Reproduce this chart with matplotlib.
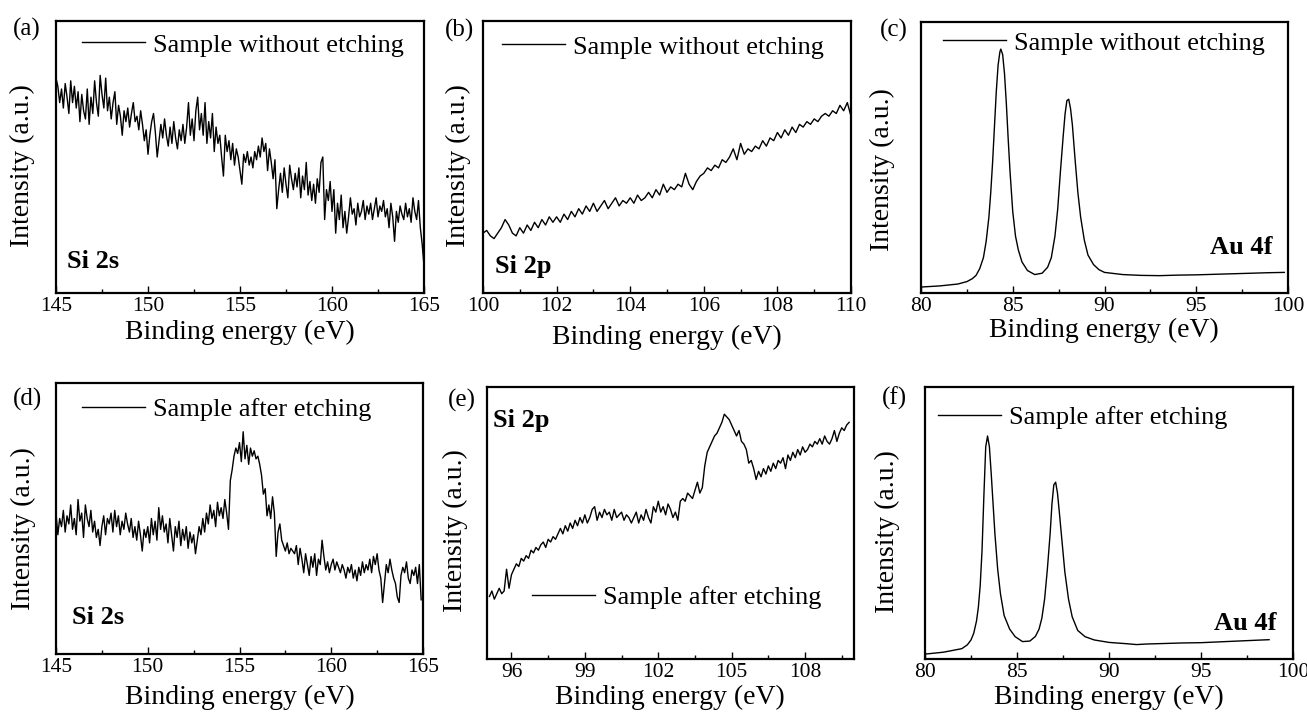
import numpy as np
import matplotlib
matplotlib.use("Agg")
import matplotlib.pyplot as plt
from matplotlib.ticker import MultipleLocator

plt.rcParams['font.family'] = ['Liberation Serif', 'DejaVu Serif']

W, H = 1307, 712

# ---- data (intensity in arbitrary units, 0-100) ----
# (a) Si 2s, without etching, 145-165 eV step 0.1
si2s_raw_x = np.round(np.arange(145.0, 165.05, 0.1), 1)
si2s_raw_y = [
    79, 76, 70, 75, 68, 77, 72, 66, 78, 70,
    76, 68, 74, 63, 73, 67, 64, 75, 62, 72,
    66, 78, 70, 65, 80, 73, 68, 79, 67, 72,
    64, 70, 74, 62, 69, 65, 58, 67, 63, 68,
    61, 66, 70, 63, 65, 60, 67, 62, 56, 60,
    51, 58, 63, 66, 59, 50, 56, 62, 57, 64,
    58, 54, 61, 55, 63, 57, 53, 60, 56, 62,
    55, 61, 70, 58, 64, 56, 67, 72, 60, 66,
    58, 70, 55, 63, 57, 66, 52, 61, 55, 58,
    50, 43, 58, 52, 56, 49, 55, 47, 53, 50,
    45, 40, 51, 48, 52, 47, 50, 46, 52, 49,
    54, 50, 57, 52, 55, 45, 53, 48, 42, 49,
    31, 38, 44, 37, 46, 40, 35, 47, 42, 38,
    44, 39, 46, 35, 43, 38, 48, 36, 41, 34,
    40, 33, 42, 37, 48, 50, 27, 38, 34, 41,
    30, 38, 22, 33, 27, 36, 24, 30, 22, 28,
    35, 29, 31, 25, 33, 28, 30, 34, 27, 32,
    29, 33, 27, 31, 35, 28, 32, 30, 34, 28,
    31, 24, 33, 28, 19, 30, 26, 32, 29, 27,
    33, 28, 31, 26, 35, 30, 27, 34, 24, 18,
    10,
]

# (b) Si 2p, without etching, 100-110 eV step 0.1
si2p_raw_x = np.round(np.arange(100.0, 110.05, 0.1), 1)
si2p_raw_y = [
    22, 23, 21, 20, 22, 24, 27, 25, 22, 21,
    24, 22, 25, 23, 26, 24, 27, 25, 28, 26,
    28, 26, 29, 27, 30, 28, 31, 29, 32, 30,
    33, 30, 32, 34, 31, 33, 35, 32, 34, 33,
    35, 33, 36, 34, 35, 37, 35, 38, 36, 40,
    37, 39, 38, 40, 39, 44, 40, 38, 41, 43,
    44, 46, 45, 47, 46, 49, 48, 50, 53, 49,
    55, 51, 53, 52, 54, 53, 56, 54, 57, 56,
    59, 57, 60, 58, 61, 59, 62, 61, 63, 62,
    64, 63, 65, 66, 65, 67, 66, 69, 67, 70,
    65,
]

# (c) Au 4f, without etching
au4f_raw_x = [80.0, 81.0, 82.0, 82.5, 82.8, 83.0, 83.2, 83.4, 83.55, 83.7,
              83.8, 83.9, 84.0, 84.1, 84.2, 84.3, 84.35, 84.45, 84.55, 84.65,
              84.75, 84.85, 85.0, 85.15, 85.3, 85.5, 85.8, 86.2, 86.6, 86.9,
              87.1, 87.3, 87.45, 87.6, 87.75, 87.85, 87.95, 88.05, 88.15, 88.25,
              88.4, 88.55, 88.7, 88.9, 89.1, 89.4, 89.7, 90.0, 91.0, 92.0,
              93.0, 94.0, 95.0, 96.0, 97.0, 98.0, 99.0, 99.8]
au4f_raw_y = [2.2, 2.6, 3.3, 4.2, 5.3, 6.5, 9, 13, 19, 28,
              37, 48, 61, 74, 84, 89, 90, 88, 81, 70,
              57, 45, 30, 21, 16, 11.5, 8.3, 6.8, 7.3, 9.5,
              13, 21, 31, 45, 58, 66, 71, 71.5, 68, 62,
              49, 37, 28, 19.5, 14, 10.5, 8.6, 7.6, 6.8, 6.5,
              6.4, 6.6, 6.7, 6.9, 7.1, 7.3, 7.5, 7.6]

# (d) Si 2s, after etching, 145-164.9 eV step 0.1
si2s_etch_x = np.round(np.arange(145.0, 164.95, 0.1), 1)
si2s_etch_y = [
    52, 44, 50, 47, 53, 45, 51, 48, 55, 46,
    50, 44, 57, 49, 52, 43, 55, 50, 47, 53,
    45, 49, 43, 46, 40, 47, 51, 44, 50, 48,
    52, 45, 53, 47, 51, 44, 49, 46, 52, 48,
    45, 50, 43, 47, 42, 49, 44, 38, 46, 43,
    47, 41, 50, 44, 49, 42, 54, 46, 51, 45,
    48, 41, 50, 44, 38, 47, 43, 49, 40, 46,
    42, 47, 39, 45, 41, 44, 37, 42, 47, 44,
    50, 45, 52, 48, 55, 50, 53, 47, 56, 51,
    54, 50, 57, 52, 46, 64, 68, 73, 76, 74,
    78, 71, 82, 72, 77, 70, 76, 73, 75, 72,
    73, 70, 66, 59, 61, 51, 55, 50, 58, 52,
    36, 45, 48, 42, 40, 38, 41, 37, 39, 38,
    37, 40, 33, 39, 35, 30, 37, 33, 29, 36,
    32, 37, 29, 35, 33, 42, 36, 31, 34, 30,
    33, 35, 31, 34, 32, 30, 33, 31, 28, 32,
    30, 33, 28, 31, 27, 32, 29, 34, 30, 33,
    31, 35, 30, 36, 33, 37, 31, 28, 19, 26,
    33, 30, 35, 31, 28, 26, 21, 19, 29, 32,
    30, 34, 28, 26, 31, 29, 32, 26, 33, 20,
]

# (e) Si 2p, after etching, 95.1-109.8 eV step 0.1
si2p_etch_x = np.round(np.arange(95.1, 109.85, 0.1), 1)
si2p_etch_y = [
    23, 25, 22, 24, 26, 24, 25, 33, 26,
    31, 33, 35, 34, 37, 36, 38, 37, 40, 39,
    41, 40, 42, 43, 41, 44, 43, 45, 44, 46,
    48, 46, 49, 47, 50, 48, 51, 49, 52, 50,
    53, 50, 52, 55, 56, 51, 54, 52, 55, 53,
    54, 51, 55, 52, 53, 54, 51, 53, 52, 50,
    52, 54, 50, 53, 51, 55, 52, 50, 56, 54,
    58, 54, 56, 53, 57, 55, 52, 54, 51, 58,
    59, 58, 61, 60, 59, 62, 65, 61, 63, 71,
    76, 78, 80, 82, 83, 85, 87, 90, 89, 88,
    86, 84, 82, 84, 80, 79, 77, 72, 73, 70,
    66, 69, 67, 70, 68, 71, 69, 72, 70, 73,
    72, 74, 70, 75, 73, 76, 74, 77, 75, 78,
    76, 77, 79, 78, 80, 79, 81, 79, 82, 80,
    79, 81, 84, 80, 83, 85, 84, 86, 87,
]

# (f) Au 4f, after etching
au4f_etch_x = [80.0, 81.0, 82.0, 82.3, 82.5, 82.65, 82.8, 82.9, 83.0, 83.1,
               83.2, 83.3, 83.4, 83.5, 83.6, 83.7, 83.8, 83.95, 84.1, 84.3,
               84.6, 84.9, 85.3, 85.7, 86.0, 86.2, 86.35, 86.5, 86.65, 86.8,
               86.9, 87.0, 87.1, 87.2, 87.3, 87.45, 87.6, 87.8, 88.0, 88.3,
               88.7, 89.2, 90.0, 91.0, 91.5, 92.0, 93.0, 94.0, 95.0, 96.0,
               97.0, 98.0, 98.7]
au4f_etch_y = [1.8, 2.5, 3.8, 5.2, 7, 9.5, 14, 19, 27, 40,
               60, 78, 82, 78, 68, 57, 46, 33, 24, 16,
               11, 8.2, 6.4, 6.6, 8.3, 11, 15, 22, 33, 46,
               57, 64, 65, 61, 54, 43, 32, 22, 15.5, 10.5,
               8.2, 7, 6.1, 5.6, 5.3, 5.5, 5.7, 5.9, 6.0, 6.3,
               6.6, 6.9, 7.1]

panels = [
    # letter, x, y, xlim, major, minor, legend text, rect(l, t, r, b), region
    ('(a)', si2s_raw_x, si2s_raw_y, (145, 165), 5, 2.5, 'Sample without etching', (56, 21, 424, 293), 'Si 2s'),
    ('(b)', si2p_raw_x, si2p_raw_y, (100, 110), 2, 1, 'Sample without etching', (483, 21, 851, 293), 'Si 2p'),
    ('(c)', au4f_raw_x, au4f_raw_y, (80, 100), 5, 2.5, 'Sample without etching', (921, 22, 1288, 293), 'Au 4f'),
    ('(d)', si2s_etch_x, si2s_etch_y, (145, 165), 5, 2.5, 'Sample after etching', (56, 383, 423, 654), 'Si 2s'),
    ('(e)', si2p_etch_x, si2p_etch_y, (95, 110), 3, 1.5, 'Sample after etching', (487, 387, 854, 659), 'Si 2p'),
    ('(f)', au4f_etch_x, au4f_etch_y, (80, 100), 5, 2.5, 'Sample after etching', (925, 387, 1293, 659), 'Au 4f'),
]

# pixel positions of decorations
letter_pos = [(13, 29), (445, 30), (880, 30), (13, 399), (448, 400), (882, 398)]
legend_pos = [(82, 45), (502, 47), (943, 43), (82, 409), (532, 597), (938, 417)]
region_pos = [(67, 261, 'left'), (495, 267, 'left'), (1272, 247, 'right'),
              (72, 618, 'left'), (493, 420, 'left'), (1277, 623, 'right')]
xlabel_pos = [(240, 332), (667, 337), (1104, 330), (240, 697), (670, 697), (1109, 697)]
ylabel_pos = [(22, 166), (458, 166), (882, 170), (23, 529), (455, 531), (887, 532)]


def fx(px):
    return px / W


def fy(py):
    return 1 - py / H


fig = plt.figure(figsize=(W / 100, H / 100), dpi=100)

for i, (letter, x, y, xlim, major, minor, leg, rect, region) in enumerate(panels):
    l, t, r, b = rect
    ax = fig.add_axes([fx(l), fy(b), (r - l) / W, (b - t) / H])
    ax.plot(x, y, color='black', lw=1.0, label=leg)
    ax.set_xlim(*xlim)
    ax.set_ylim(0, 100)
    ax.set_yticks([])
    ax.xaxis.set_major_locator(MultipleLocator(major))
    ax.xaxis.set_minor_locator(MultipleLocator(minor))
    ax.tick_params(axis='x', which='both', direction='in', top=False,
                   labelsize=15.5, pad=3, width=1)
    ax.tick_params(axis='x', which='major', length=5)
    ax.tick_params(axis='x', which='minor', length=3)
    for s in ax.spines.values():
        s.set_linewidth(1.6)

    lx, ly = legend_pos[i]
    ax.legend(loc='center left', bbox_to_anchor=(fx(lx), fy(ly)),
              bbox_transform=fig.transFigure, frameon=False, borderpad=0,
              borderaxespad=0, handlelength=2.4, handletextpad=0.28,
              fontsize=19)

    px, py = letter_pos[i]
    fig.text(fx(px), fy(py), letter, fontsize=18, ha='left', va='center')
    rx, ry, ha = region_pos[i]
    fig.text(fx(rx), fy(ry), region, fontsize=19, fontweight='bold',
             ha=ha, va='center')
    xx, xy = xlabel_pos[i]
    fig.text(fx(xx), fy(xy), 'Binding energy (eV)', fontsize=20,
             ha='center', va='center')
    yx, yy = ylabel_pos[i]
    fig.text(fx(yx), fy(yy), 'Intensity (a.u.)', fontsize=20, rotation=90,
             ha='center', va='center')

fig.savefig('out.png', dpi=100)
